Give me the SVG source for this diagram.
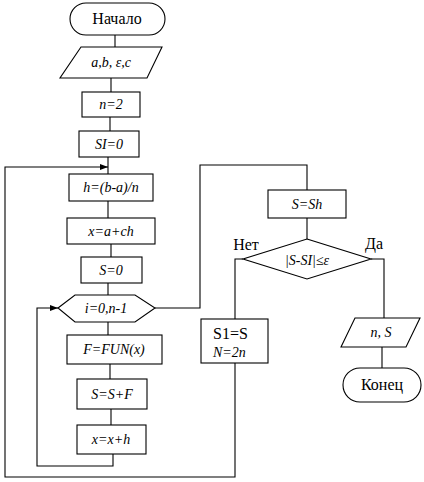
<svg xmlns="http://www.w3.org/2000/svg" width="424" height="482" viewBox="0 0 424 482">
<defs>
<marker id="arr" viewBox="0 0 8 6" refX="8" refY="3" markerWidth="8" markerHeight="6" markerUnits="userSpaceOnUse" orient="auto">
<path d="M0,0 L8,3 L0,6 Z" fill="#000"/>
</marker>
<style>
.s{fill:#fff;stroke:#000;stroke-width:1.1}
.c{fill:none;stroke:#000;stroke-width:1.1}
text{font-family:'Liberation Serif','Times New Roman',serif;fill:#000;text-anchor:middle}
.t{font-size:16px}
.f{font-size:14px;font-style:italic}
</style>
</defs>
<rect width="424" height="482" fill="#fff"/>
<g id="connectors">
<path class="c" d="M115,35 V47"/>
<path class="c" d="M111,78 V92"/>
<path class="c" d="M110,117 V131"/>
<path class="c" d="M108,157 V174"/>
<path class="c" d="M108,201 V218"/>
<path class="c" d="M111,244 V257"/>
<path class="c" d="M108,283 V295"/>
<path class="c" d="M108,322 V335"/>
<path class="c" d="M110,364 V379"/>
<path class="c" d="M111,409 V425"/>
<path class="c" d="M113,454 V466 H37 V308 H58" marker-end="url(#arr)"/>
<path class="c" d="M155,308 H200 V165 H307 V190"/>
<path class="c" d="M307,218 V239"/>
<path class="c" d="M243,259 H235 V319"/>
<path class="c" d="M235,363 V477 H5 V167 H108" marker-end="url(#arr)"/>
<path class="c" d="M371,259 H384 V318"/>
<path class="c" d="M382,347 V368"/>
</g>
<g id="start"><rect class="s" x="70" y="3" width="95" height="32" rx="16"/><text class="t" x="117" y="24">Начало</text></g>
<g id="input"><polygon class="s" points="81,47 162,47 147,78 60,78"/><text class="f" x="111" y="67">a,b, ε,c</text></g>
<g id="n2"><rect class="s" x="82" y="92" width="58" height="25"/><text class="f" x="111" y="109">n=2</text></g>
<g id="s10"><rect class="s" x="79" y="131" width="60" height="26"/><text class="f" x="109" y="149">SI=0</text></g>
<g id="h"><rect class="s" x="69" y="174" width="84" height="27"/><text class="f" x="111" y="192">h=(b-a)/n</text></g>
<g id="x0"><rect class="s" x="67" y="218" width="88" height="26"/><text class="f" x="111" y="236">x=a+ch</text></g>
<g id="s0"><rect class="s" x="81" y="257" width="61" height="26"/><text class="f" x="111" y="275">S=0</text></g>
<g id="loop"><polygon class="s" points="58,308 75,295 135,295 155,308 135,322 75,322"/><text class="f" x="106" y="313">i=0,n-1</text></g>
<g id="fun"><rect class="s" x="67" y="335" width="95" height="29"/><text class="f" x="114" y="354">F=FUN(x)</text></g>
<g id="ssf"><rect class="s" x="77" y="379" width="70" height="30"/><text class="f" x="112" y="399">S=S+F</text></g>
<g id="xxh"><rect class="s" x="77" y="425" width="69" height="29"/><text class="f" x="111" y="444">x=x+h</text></g>
<g id="ssh"><rect class="s" x="268" y="190" width="78" height="28"/><text class="f" x="307" y="209">S=Sh</text></g>
<g id="cond"><polygon class="s" points="307,239 371,259 307,279 243,259"/><text class="f" x="307" y="265">|S-SI|≤ε</text>
<text class="t" x="246" y="250">Нет</text><text class="t" x="374" y="249">Да</text></g>
<g id="upd"><rect class="s" x="201" y="319" width="67" height="44"/>
<text class="t" x="213" y="339" style="text-anchor:start">S1=S</text>
<text class="f" x="213" y="357" style="text-anchor:start">N=2n</text></g>
<g id="output"><polygon class="s" points="355,318 420,318 406,347 341,347"/><text class="f" x="381" y="337">n, S</text></g>
<g id="end"><rect class="s" x="343" y="368" width="78" height="34" rx="17"/><text class="t" x="382" y="390">Конец</text></g>
</svg>
